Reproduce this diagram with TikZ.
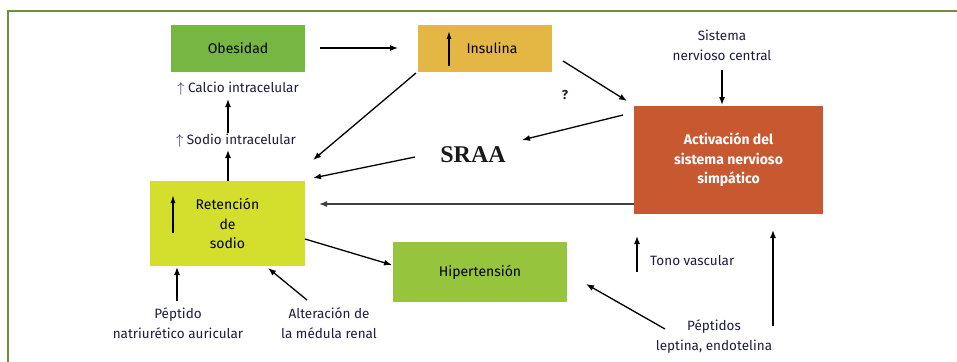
\documentclass[tikz,border=0pt]{standalone}
\usepackage{fontspec}
\setmainfont{Fira Sans}
\newfontfamily\srfont{Liberation Serif}
\usetikzlibrary{arrows.meta}
\definecolor{frameg}{HTML}{6F8F3A}
\definecolor{obes}{HTML}{76B743}
\definecolor{insu}{HTML}{E4B745}
\definecolor{reten}{HTML}{D3DF2C}
\definecolor{hiper}{HTML}{97C43D}
\definecolor{activ}{HTML}{C8582F}
\definecolor{lbl}{HTML}{1C1C40}
\tikzset{
  box/.style={draw=none, inner sep=0pt, align=center, font=\fontsize{14}{16}\selectfont},
  lab/.style={inner sep=1pt, align=center, text=lbl, font=\fontsize{13.5}{20}\selectfont},
  arr/.style={-{Latex[length=8pt,width=6pt]}, line width=1.3pt, black},
}
\begin{document}
\begin{tikzpicture}[x=1pt,y=-1pt]
\useasboundingbox (0,0) rectangle (957,361);
\draw[frameg, line width=2pt] (8,380) -- (8,11) -- (970,11);
% boxes
\node[box, fill=obes, minimum width=134pt, minimum height=47pt] (obe) at (238,48.5) {Obesidad};
\node[box, fill=insu, minimum width=134pt, minimum height=47pt] (ins) at (485,48.5) {\hspace*{14pt}Insulina};
\draw[line width=1.3pt, -{Latex[length=8pt,width=5pt]}] (449,66) -- (449,31);
\node[box, fill=reten, minimum width=155pt, minimum height=85pt, font=\fontsize{14}{19.5}\selectfont] (ret) at (227.5,223.5) {Retención\\de\\sodio};
\draw[line width=1.3pt, -{Latex[length=8pt,width=5pt]}] (173,233) -- (173,195);
\node[box, fill=hiper, minimum width=174pt, minimum height=60pt] (hip) at (480,272) {Hipertensión};
\node[box, fill=activ, minimum width=189pt, minimum height=108pt, text=white, font=\bfseries\fontsize{14}{19.5}\selectfont] (act) at (728.5,160) {Activación del\\sistema nervioso\\simpático};
% labels
\node[lab] (cal) at (238,89) {$\uparrow$ Calcio intracelular};
\node[lab] (sod) at (236,141) {$\uparrow$ Sodio intracelular};
\node[inner sep=1pt, font=\srfont\bfseries\fontsize{24}{28}\selectfont, text=black!90] (sraa) at (473,155) {SRAA};
\node[lab] (snc) at (722,45) {Sistema\\nervioso central};
\node[lab, font=\bfseries\fontsize{13}{15}\selectfont] (q) at (565,95) {?};
\node[lab] (pna) at (178,323) {Péptido\\natriurético auricular};
\node[lab] (alt) at (329,323) {Alteración de\\la médula renal};
\node[lab, anchor=west] (tono) at (649,261) {Tono vascular};
\node[lab] (pep) at (714,337) {Péptidos\\leptina, endotelina};
% coordinates for connector ends
\coordinate (o1) at (320,48);
\coordinate (i1) at (398,48);
\coordinate (is) at (416,73);
\coordinate (ir) at (313,160);
\coordinate (sr1) at (415,157);
\coordinate (sr2) at (313,178);
\coordinate (ia1) at (563,61);
\coordinate (ia2) at (627,101);
\coordinate (as1) at (623,115);
\coordinate (as2) at (522,140);
\coordinate (sn1) at (722,70);
\coordinate (sn2) at (722,105);
\coordinate (sc1) at (228,133);
\coordinate (sc2) at (228,99);
\coordinate (rs1) at (228,181);
\coordinate (rs2) at (228,150);
\coordinate (ar2) at (319,204);
\coordinate (rh1) at (305,239);
\coordinate (rh2) at (392,265);
\coordinate (pn1) at (177,301);
\coordinate (pn2) at (177,267);
\coordinate (al1) at (307,300);
\coordinate (al2) at (268,268);
\coordinate (tv1) at (637,272);
\coordinate (tv2) at (637,236);
\coordinate (pp1) at (773,326);
\coordinate (pp2) at (773,230);
\coordinate (ph1) at (665,329);
\coordinate (ph2) at (586,284);
% connectors
\draw[arr] (o1) -- (i1);
\draw[arr] (sc1) -- (sc2);
\draw[arr] (rs1) -- (rs2);
\draw[arr] (is) -- (ir);
\draw[arr] (sr1) -- (sr2);
\draw[arr] (ia1) -- (ia2);
\draw[arr] (as1) -- (as2);
\draw[arr] (sn1) -- (sn2);
\draw[arr, black!75] (act.west |- ar2) -- (ar2);
\draw[arr] (rh1) -- (rh2);
\draw[arr] (pn1) -- (pn2);
\draw[arr] (al1) -- (al2);
\draw[arr] (tv1) -- (tv2);
\draw[arr] (pp1) -- (pp2);
\draw[arr] (ph1) -- (ph2);
\end{tikzpicture}
\end{document}
